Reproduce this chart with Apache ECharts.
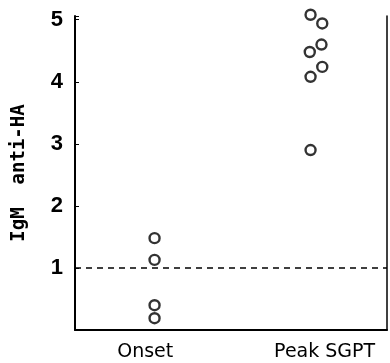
<!DOCTYPE html>
<html><head><meta charset="utf-8">
<script src="https://cdn.jsdelivr.net/npm/echarts@6/dist/echarts.min.js"></script>
<style>html,body{margin:0;padding:0;background:#fff}#c{width:390px;height:363px}</style>
</head><body><div id="c"></div>
<script>
var categories = ['Onset', 'Peak SGPT'];
var categoryX = [0.9, 3.2];
var onsetValues = [1.48, 1.13, 0.40, 0.19];
var onsetX = [1.02, 1.02, 1.02, 1.02];
var peakValues = [5.08, 4.94, 4.60, 4.48, 4.24, 4.08, 2.90];
var peakX = [3.02, 3.17, 3.16, 3.01, 3.17, 3.02, 3.02];
var cutoff = 1;
var yTicks = [1, 2, 3, 4, 5];

var onsetData = onsetValues.map(function (v, i) { return [onsetX[i], v]; });
var peakData = peakValues.map(function (v, i) { return [peakX[i], v]; });
var chart = echarts.init(document.getElementById('c'));
var sym = { symbol: 'circle', symbolSize: 10, itemStyle: { color: '#fff', borderColor: '#000', borderWidth: 2.4 } };
chart.setOption({
  animation: false,
  grid: { left: 75, right: 2, top: 16, bottom: 33 },
  xAxis: {
    type: 'value', min: 0, max: 4, interval: 0.1,
    axisLine: { show: true, onZero: false, lineStyle: { color: '#000', width: 2 } },
    axisTick: { show: false }, splitLine: { show: false },
    axisLabel: {
      margin: 13, color: '#000', fontFamily: 'DejaVu Sans', fontSize: 19,
      formatter: function (v) {
        for (var i = 0; i < categoryX.length; i++) if (Math.abs(v - categoryX[i]) < 1e-6) return categories[i];
        return '';
      }
    }
  },
  yAxis: [{
    type: 'value', min: 0, max: 5.06, interval: 1,
    name: 'IgM  anti-HA', nameLocation: 'middle', nameGap: 46,
    nameTextStyle: { color: '#000', fontFamily: 'DejaVu Sans Mono', fontWeight: 'bold', fontSize: 19 },
    axisLine: { show: true, lineStyle: { color: '#000', width: 2 } },
    axisTick: { show: true, inside: true, length: 4, lineStyle: { color: '#000', width: 1 } },
    splitLine: { show: false },
    axisLabel: {
      margin: 12, color: '#000', fontFamily: 'Liberation Sans Narrow, Liberation Sans', fontWeight: 'bold', fontSize: 22,
      formatter: function (v) { return yTicks.indexOf(v) >= 0 ? String(v) : ''; }
    }
  }, {
    type: 'value', min: 0, max: 5.06, position: 'right',
    axisLine: { show: true, lineStyle: { color: '#000', width: 1.5 } },
    axisTick: { show: false }, axisLabel: { show: false }, splitLine: { show: false }
  }],
  series: [
    Object.assign({ type: 'scatter', name: categories[0], data: onsetData, clip: false,
      markLine: { silent: true, symbol: ['none', 'none'], label: { show: false },
        lineStyle: { color: '#000', type: [6, 5], width: 1.5 }, data: [{ yAxis: cutoff }] } }, sym),
    Object.assign({ type: 'scatter', name: categories[1], data: peakData, clip: false }, sym)
  ]
});
</script></body></html>
